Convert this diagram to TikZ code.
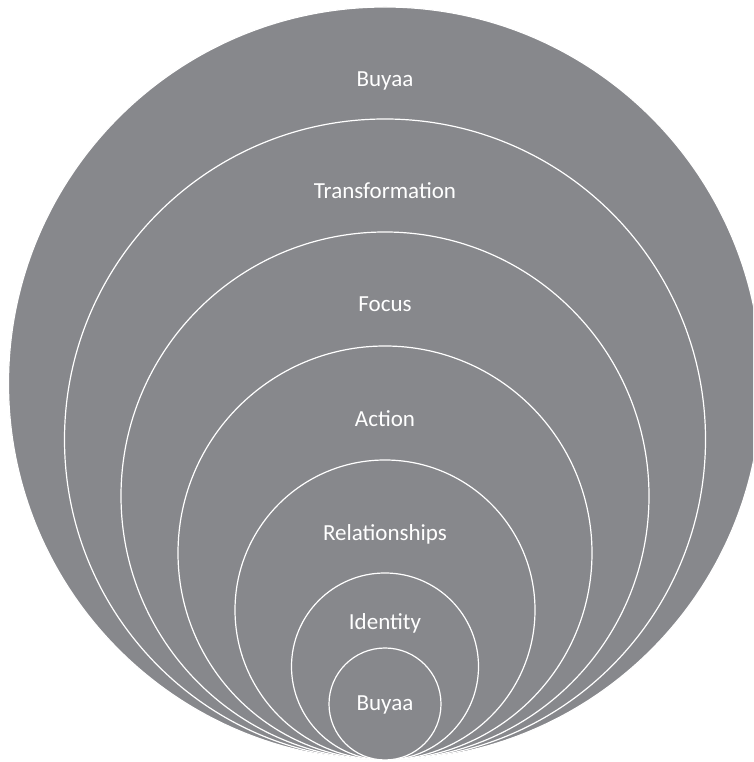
\documentclass[tikz,border=0pt]{standalone}
\usepackage{fontspec}
\setmainfont{Carlito}
\definecolor{ringgray}{RGB}{135,136,140}
\begin{document}
\begin{tikzpicture}[x=1pt,y=1pt]
        \tikzset{ring/.style={circle,fill=ringgray,draw=white,line width=1.2pt,inner sep=0pt},
                 ringlabel/.style={text=white,font=\fontsize{23}{27}\selectfont,anchor=base}}
        \useasboundingbox (0,0) rectangle (753,762);
        \clip (0,0) rectangle (753,762);
        \foreach \d/\base/\word [count=\i] in {753/675/Buyaa, 641/563/Transformation,
                528/450/Focus, 414/335/Action, 300/221/Relationships,
                187/132/Identity, 112/51/Buyaa}
            { \node[ring,minimum size=\d pt] (ring\i) at (385,2+\d/2) {};
              \node[ringlabel] (label\i) at (385,\base) {\word}; }
    \end{tikzpicture}
\end{document}
